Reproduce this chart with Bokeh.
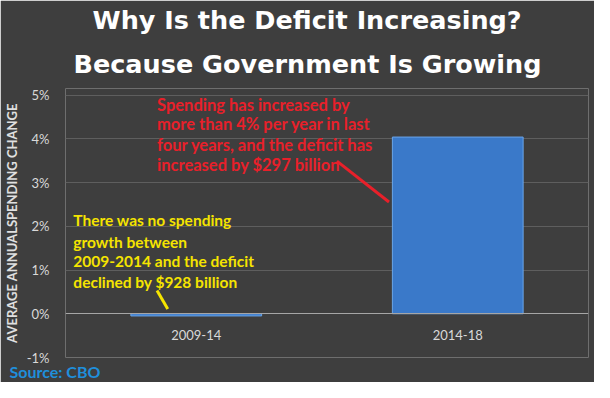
from bokeh.plotting import figure
from bokeh.models import Range1d, FactorRange, FixedTicker, Title
from bokeh.core.properties import value
from bokeh.embed import file_html
from bokeh.resources import INLINE

periods = ["2009-14", "2014-18"]
spending_change = [-0.05, 4.04]
y_ticks = [-1, 0, 1, 2, 3, 4, 5]
y_tick_labels = ["-1%", "0%", "1%", "2%", "3%", "4%", "5%"]
title_lines = ["Why Is the Deficit Increasing?", "Because Government Is Growing"]
red_note = ["Spending has increased by", "more than 4% per year in last",
            "four years, and the deficit has", "increased by $297 billion"]
yellow_note = ["There was no spending", "growth between",
               "2009-2014 and the deficit", "declined by $928 billion"]
source_text = "Source: CBO"
y_label = "AVERAGE ANNUALSPENDING CHANGE"

BG = "#3e3e3e"
FONT = "Lato"
TITLE_FONT = "DejaVu Sans"

p = figure(x_range=FactorRange(*periods), y_range=Range1d(-1, 5.15),
           width=594, height=382, output_backend="svg", toolbar_location=None,
           min_border_left=56, min_border_right=6, min_border_top=82, min_border_bottom=0,
           background_fill_color=BG, border_fill_color=BG, outline_line_color=None)

p.add_layout(Title(text=source_text, align="left", offset=-56, standoff=4, text_line_height=0.8,
                   text_color="#1f8fdc", text_font=FONT, text_font_style="bold",
                   text_font_size="16px"), "below")
p.add_layout(Title(text=title_lines[1], align="left", offset=8, standoff=20, text_color="white",
                   text_font=TITLE_FONT, text_font_style="bold", text_font_size="25.5px"), "above")
p.add_layout(Title(text=title_lines[0], align="left", offset=27, standoff=4, text_color="white",
                   text_font=TITLE_FONT, text_font_style="bold", text_font_size="25.5px"), "above")

p.vbar(x=periods, top=spending_change, bottom=0, width=0.5,
       fill_color="#3a79c9", line_color="#6aa5e8", line_width=1)

p.xgrid.visible = False
p.ygrid.grid_line_color = "#5e5e5e"
p.ygrid.ticker = FixedTicker(ticks=y_ticks)

ya = p.yaxis[0]
ya.ticker = FixedTicker(ticks=y_ticks)
ya.major_label_overrides = dict(zip(y_ticks, y_tick_labels))
ya.axis_line_color = None
ya.major_tick_line_color = None
ya.minor_tick_line_color = None
ya.major_label_standoff = 10
ya.major_label_text_color = "#d9d9d9"
ya.major_label_text_font = FONT
ya.major_label_text_font_size = "13px"
ya.axis_label = y_label
ya.axis_label_text_color = "#e0e0e0"
ya.axis_label_text_font = FONT
ya.axis_label_text_font_style = "bold"
ya.axis_label_text_font_size = "13px"
ya.axis_label_standoff = 4

xa = p.xaxis[0]
xa.fixed_location = 0
xa.axis_line_color = "#a6a6a6"
xa.axis_line_width = 1
xa.major_tick_line_color = None
xa.minor_tick_line_color = None
xa.major_label_standoff = 10
xa.major_label_text_color = "#d9d9d9"
xa.major_label_text_font = FONT
xa.major_label_text_font_size = "13px"

red_x = 0.350
red_y = [4.778, 4.333, 3.867, 3.40]
p.text(x=[red_x] * 4, y=red_y, text=red_note, text_color="#e8202a",
       text_font=value(FONT), text_font_style="bold", text_font_size="16.5px",
       text_baseline="middle", text_align="left")
p.segment(x0=[1.038], y0=[3.489], x1=[1.237], y1=[2.556], line_color="#e8202a", line_width=3)

yel_x = 0.030
yel_y = [2.133, 1.644, 1.20, 0.733]
p.text(x=[yel_x] * 4, y=yel_y, text=yellow_note, text_color="#f5e400",
       text_font=value(FONT), text_font_style="bold", text_font_size="15.5px",
       text_baseline="middle", text_align="left")
p.segment(x0=[0.350], y0=[0.533], x1=[0.391], y1=[0.111], line_color="#f5e400", line_width=3)

open("out.html", "w").write(file_html(p, INLINE))
